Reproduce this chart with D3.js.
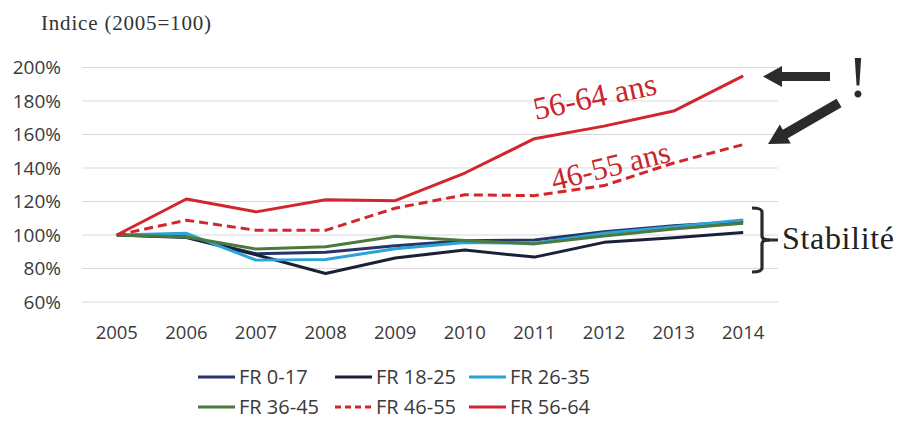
<!DOCTYPE html>
<html>
<head>
<meta charset="utf-8">
<script src="https://cdn.jsdelivr.net/npm/d3@7"></script>
<style>
  body { margin: 0; background: #fff; }
  svg { display: block; }
</style>
</head>
<body>
<div id="chart"></div>
<script>
const years = ["2005", "2006", "2007", "2008", "2009", "2010", "2011", "2012", "2013", "2014"];
const yTicks = [60, 80, 100, 120, 140, 160, 180, 200];

const fr0017 = [100, 99, 88.8, 89.7, 93.6, 96.5, 97, 102, 105.5, 108];
const fr1825 = [100, 98.5, 88.2, 77, 86.3, 91, 86.8, 95.6, 98.3, 101.5];
const fr2635 = [100, 101, 85, 85.4, 91.8, 95.5, 95.1, 101, 105, 109];
const fr3645 = [100, 98.8, 91.6, 93, 99.3, 96.7, 94.7, 99.4, 103.6, 107];
const fr4655 = [100, 108.8, 102.8, 102.8, 116, 124, 123.5, 129.5, 143, 154];
const fr5664 = [100, 121.5, 113.8, 121, 120.5, 137, 157.5, 165, 174, 195];

const series = [
  { name: "FR 0-17", values: fr0017, color: "#27346a", dash: null },
  { name: "FR 18-25", values: fr1825, color: "#1a2038", dash: null },
  { name: "FR 26-35", values: fr2635, color: "#2aa3d8", dash: null },
  { name: "FR 36-45", values: fr3645, color: "#4b7a3c", dash: null },
  { name: "FR 46-55", values: fr4655, color: "#d2262e", dash: "9,5" },
  { name: "FR 56-64", values: fr5664, color: "#d2262e", dash: null }
];

const width = 897;
const height = 421;
const sans = "'Open Sans', 'Liberation Sans', sans-serif";
const serif = "'Liberation Serif', 'DejaVu Serif', serif";

const svg = d3.select("#chart")
  .append("svg")
  .attr("width", width)
  .attr("height", height);

const x = d3.scaleBand().domain(years).range([82, 778]);
const cx = (d) => x(d) + x.bandwidth() / 2;
const y = d3.scaleLinear().domain([60, 200]).range([302, 67.5]);

// gridlines
svg.append("g")
  .selectAll("line")
  .data(yTicks)
  .join("line")
  .attr("x1", 82)
  .attr("x2", 778)
  .attr("y1", (d) => y(d))
  .attr("y2", (d) => y(d))
  .attr("stroke", "#d9d9d9")
  .attr("stroke-width", 1.2);

// y labels
svg.append("g")
  .selectAll("text")
  .data(yTicks)
  .join("text")
  .attr("x", 61)
  .attr("y", (d) => y(d))
  .attr("dy", "0.36em")
  .attr("text-anchor", "end")
  .attr("font-family", sans)
  .attr("font-size", 19)
  .attr("fill", "#3a3a3a")
  .text((d) => d + "%");

// x labels
svg.append("g")
  .selectAll("text")
  .data(years)
  .join("text")
  .attr("x", (d) => cx(d))
  .attr("y", 339)
  .attr("text-anchor", "middle")
  .attr("font-family", sans)
  .attr("font-size", 18.5)
  .attr("fill", "#3a3a3a")
  .text((d) => d);

// title
svg.append("text")
  .attr("x", 41)
  .attr("y", 30)
  .attr("font-family", serif)
  .attr("font-size", 21)
  .attr("textLength", 170)
  .attr("fill", "#333")
  .text("Indice (2005=100)");

// lines
const line = d3.line()
  .x((d, i) => cx(years[i]))
  .y((d) => y(d));

svg.append("g")
  .selectAll("path")
  .data(series)
  .join("path")
  .attr("d", (s) => line(s.values))
  .attr("fill", "none")
  .attr("stroke", (s) => s.color)
  .attr("stroke-width", 3)
  .attr("stroke-linejoin", "round")
  .attr("stroke-dasharray", (s) => s.dash);

// legend
const legendPos = [
  [198, 377], [335, 377], [469, 377],
  [198, 407], [335, 407], [469, 407]
];
const legend = svg.append("g")
  .selectAll("g")
  .data(series)
  .join("g")
  .attr("transform", (s, i) => `translate(${legendPos[i][0]},${legendPos[i][1]})`);

legend.append("line")
  .attr("x1", 0)
  .attr("x2", 37)
  .attr("stroke", (s) => s.color)
  .attr("stroke-width", 3)
  .attr("stroke-dasharray", (s) => (s.dash ? "6,4" : null));

legend.append("text")
  .attr("x", 41)
  .attr("dy", "0.36em")
  .attr("font-family", sans)
  .attr("font-size", 20)
  .attr("fill", "#3a3a3a")
  .text((s) => s.name);

// annotations
const red = "#c9252c";
svg.append("text")
  .attr("transform", "translate(597,107) rotate(-12)")
  .attr("text-anchor", "middle")
  .attr("font-family", serif)
  .attr("font-size", 32)
  .attr("fill", red)
  .text("56-64 ans");

svg.append("text")
  .attr("transform", "translate(613,176) rotate(-14)")
  .attr("text-anchor", "middle")
  .attr("font-family", serif)
  .attr("font-size", 31)
  .attr("fill", red)
  .text("46-55 ans");

const dark = "#2b2b2b";
// arrow 1 (horizontal)
svg.append("path")
  .attr("d", "M830,72 L782,72 L782,66 L763,76.5 L782,87 L782,81 L830,81 Z")
  .attr("fill", dark);
// arrow 2 (diagonal)
const a2 = svg.append("g").attr("transform", "translate(768,144) rotate(-30)");
a2.append("path")
  .attr("d", "M0,0 L20,-11 L20,-5 L82,-5 L82,5 L20,5 L20,11 Z")
  .attr("fill", dark);

svg.append("text")
  .attr("x", 858)
  .attr("y", 97)
  .attr("text-anchor", "middle")
  .attr("font-family", serif)
  .attr("font-size", 60)
  .attr("fill", dark)
  .text("!");

// bracket
svg.append("path")
  .attr("d", "M752,208 Q762,208 762,212 L762,236 Q762,240 770,240 Q762,240 762,244 L762,268 Q762,272 752,272")
  .attr("fill", "none")
  .attr("stroke", dark)
  .attr("stroke-width", 3.2);
svg.append("line")
  .attr("x1", 762)
  .attr("x2", 778)
  .attr("y1", 240)
  .attr("y2", 240)
  .attr("stroke", dark)
  .attr("stroke-width", 3);

svg.append("text")
  .attr("x", 782)
  .attr("y", 249)
  .attr("font-family", serif)
  .attr("font-size", 32)
  .attr("textLength", 112)
  .attr("fill", "#222")
  .text("Stabilité");
</script>
</body>
</html>
